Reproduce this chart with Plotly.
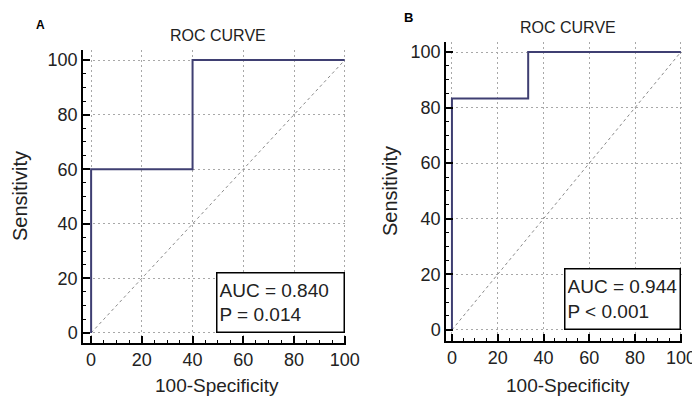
import plotly.graph_objects as go

# ---- data ----
fpr_a = [0, 0, 40, 40, 100]
tpr_a = [0, 60, 60, 100, 100]
fpr_b = [0, 0, 33.3, 33.3, 100]
tpr_b = [0, 83.3, 83.3, 100, 100]
diag = [0, 100]
tick_vals = [0, 20, 40, 60, 80, 100]
tick_text = ["0", "20", "40", "60", "80", "100"]
panel_letters = ["A", "B"]
titles = ["ROC CURVE", "ROC CURVE"]
stats_a = ["AUC = 0.840", "P = 0.014"]
stats_b = ["AUC = 0.944", "P < 0.001"]

W, H = 692, 398
FONT = "Arial, Liberation Sans, sans-serif"
ROC_COLOR = "#3f3f72"
TXT = "#222"

fig = go.Figure()

for i, (fx, ty) in enumerate([(fpr_a, tpr_a), (fpr_b, tpr_b)]):
    xa = "x" if i == 0 else "x2"
    ya = "y" if i == 0 else "y2"
    fig.add_trace(go.Scatter(x=diag, y=diag, mode="lines", xaxis=xa, yaxis=ya,
                             line=dict(color="#8a8a8a", width=1, dash="3px,3px"),
                             showlegend=False, hoverinfo="skip"))
    fig.add_trace(go.Scatter(x=fx, y=ty, mode="lines", xaxis=xa, yaxis=ya,
                             line=dict(color=ROC_COLOR, width=2),
                             showlegend=False))

def axis_style(rng, domain, anchor):
    return dict(
        range=rng, domain=domain, anchor=anchor, automargin=False,
        showline=True, linecolor="black", linewidth=1.5, mirror=False,
        ticks="inside", ticklen=7, tickwidth=1.5, tickcolor="black",
        tickvals=tick_vals, ticktext=tick_text,
        tickfont=dict(family=FONT, size=18, color=TXT),
        showgrid=True, gridcolor="#a8a8a8", griddash="2px,3px", gridwidth=1,
        zeroline=False,
        minor=dict(dtick=5, ticks="inside", ticklen=3, tickcolor="black",
                   tickwidth=1, showgrid=False),
        fixedrange=True,
    )

fig.update_layout(
    width=W, height=H,
    margin=dict(l=0, r=0, t=0, b=0, autoexpand=False),
    paper_bgcolor="white", plot_bgcolor="white",
    xaxis=axis_style([-3.2, 100.5], [83 / W, 346 / W], "y"),
    yaxis=axis_style([-3.7, 103.7], [1 - 343 / H, 1 - 50 / H], "x"),
    xaxis2=axis_style([-2.6, 100.5], [446 / W, 682 / W], "y2"),
    yaxis2=axis_style([-4.0, 103.6], [1 - 341 / H, 1 - 42 / H], "x2"),
)

def px_ann(text, x, y, size, bold=False, angle=0, color=TXT):
    fig.add_annotation(
        text=f"<b>{text}</b>" if bold else text,
        xref="paper", yref="paper", x=x / W, y=1 - y / H,
        xanchor="center", yanchor="middle", showarrow=False,
        textangle=angle, font=dict(family=FONT, size=size, color=color),
    )

# panel letters and titles
px_ann(panel_letters[0], 40, 25, 12, bold=True, color="black")
px_ann(panel_letters[1], 408, 17, 13, bold=True, color="black")
px_ann(titles[0], 218, 35, 16)
px_ann(titles[1], 568, 27, 16)

# axis titles
px_ann("Sensitivity", 20, 196, 20, angle=-90)
px_ann("Sensitivity", 390, 191, 20, angle=-90)
px_ann("100-Specificity", 217, 385, 19)
px_ann("100-Specificity", 568, 385, 19)

# last x tick label of panel B, which runs past the page edge (cut off, as in the original)
fig.add_annotation(
    text=tick_text[-1], xref="x2", yref="paper", x=tick_vals[-1], y=1 - 358 / H,
    xanchor="center", yanchor="middle", showarrow=False,
    font=dict(family=FONT, size=18, color=TXT),
)

# statistics boxes
for stats, xa, ya, w, h in [(stats_a, "x", "y", 122, 54), (stats_b, "x2", "y2", 110, 55)]:
    fig.add_annotation(
        text="<br>".join(stats), xref=xa, yref=ya, x=100, y=0,
        xanchor="right", yanchor="bottom", align="left", valign="middle",
        showarrow=False, width=w, height=h,
        bordercolor="black", borderwidth=1.5, borderpad=2, bgcolor="white",
        font=dict(family=FONT, size=19, color=TXT),
    )

fig.write_html("out.html", config={"displayModeBar": False})

# remove the default page margin so the figure sits at the window's top-left
with open("out.html", "r", encoding="utf-8") as f:
    html = f.read()
html = html.replace("<head>", "<head><style>html,body{margin:0;padding:0;overflow:hidden;}</style>", 1)
with open("out.html", "w", encoding="utf-8") as f:
    f.write(html)
